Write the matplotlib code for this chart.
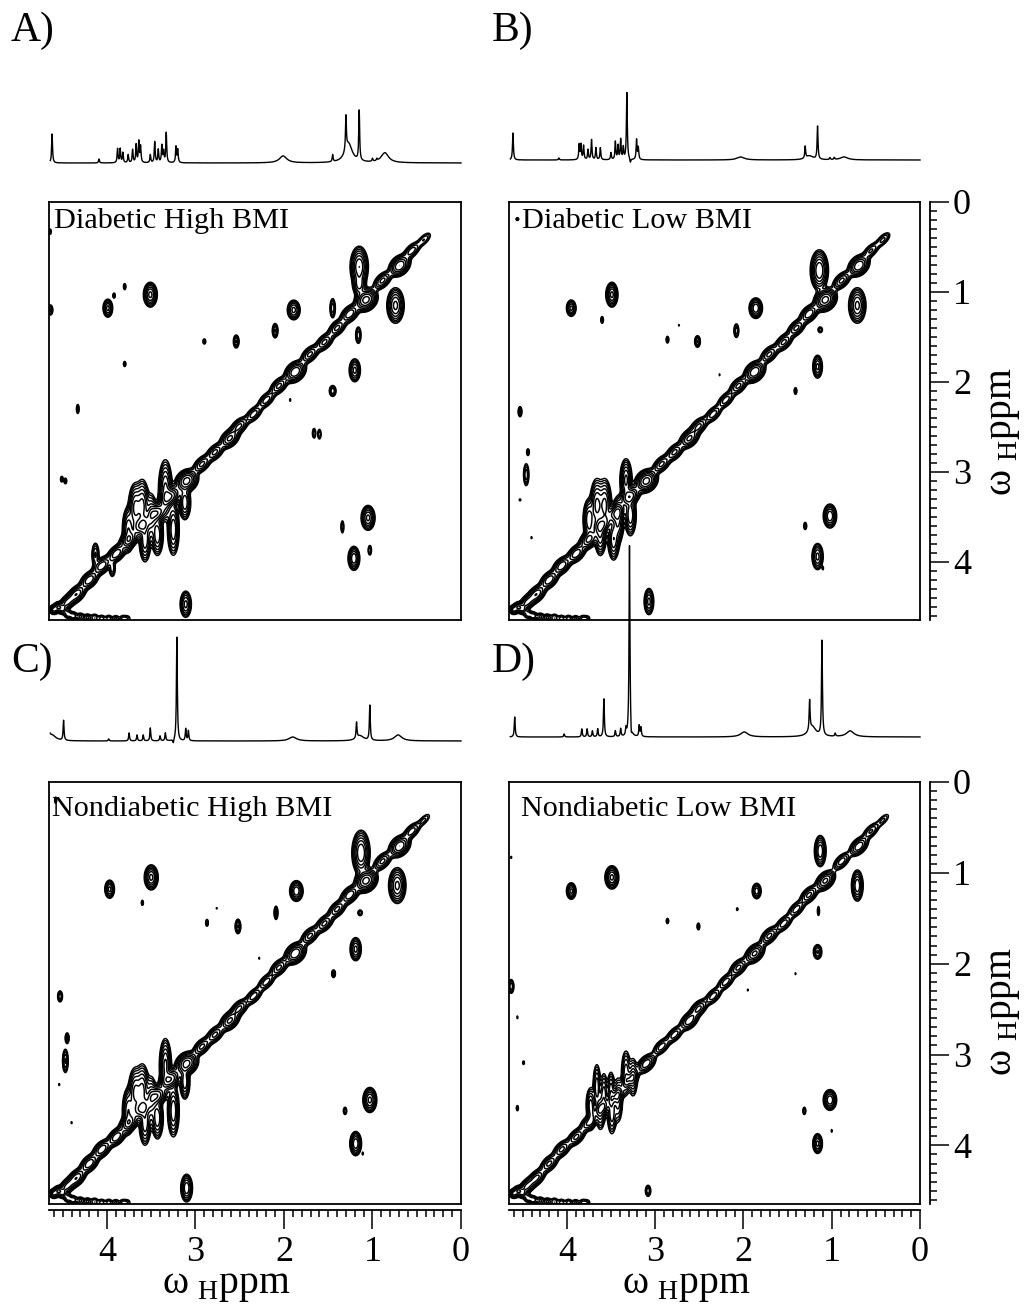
import numpy as np
import matplotlib
matplotlib.use('Agg')
import matplotlib.pyplot as plt
from matplotlib.ticker import MultipleLocator

plt.rcParams['font.family'] = ['Liberation Serif', 'DejaVu Serif']
plt.rcParams['mathtext.fontset'] = 'custom'
plt.rcParams['mathtext.rm'] = 'Liberation Serif'

W, H = 1026, 1308
LEVELS = [0.2, 0.3, 0.45, 0.7, 1.1, 1.7, 2.6, 4, 6]

# 1D traces: sharp lines (ppm, height in px above the baseline), broad humps
a_line_x = [4.62, 4.09, 3.88, 3.85, 3.82, 3.76, 3.71, 3.67, 3.64, 3.62, 3.51, 3.46, 3.42, 3.38, 3.36, 3.33, 3.22, 3.20, 1.45, 1.30, 1.15, 1.00, 0.95]
a_line_h = [29, 4, 14, 14, 10, 8, 13, 18, 21, 16, 8, 21, 13, 17, 11, 30, 16, 13, 7, 34, 50, 3, 2]
a_hump_x = [2.01, 1.27, 0.86]
a_hump_h = [7, 19, 10]

b_line_x = [4.61, 4.09, 3.86, 3.84, 3.81, 3.76, 3.72, 3.67, 3.62, 3.50, 3.45, 3.42, 3.39, 3.36, 3.32, 3.28, 3.21, 3.19, 1.30, 1.16, 1.02, 0.97]
b_line_h = [27, 2, 15, 15, 14, 10, 20, 12, 12, 7, 18, 14, 20, 12, 67, -4, 20, 12, 12, 33, 2, 2]
b_hump_x = [2.03, 1.25, 0.86]
b_hump_h = [3, 4, 3]

c_line_x = [4.65, 4.49, 3.98, 3.75, 3.66, 3.59, 3.51, 3.40, 3.34, 3.25, 3.21, 3.11, 3.08, 1.18, 1.03]
c_line_h = [10, 20, 2, 8, 6, 6, 13, 5, 8, -4, 104, 12, 10, 16, 35]
c_hump_x = [4.62, 1.90, 1.14, 0.71]
c_hump_h = [6, 4, 5, 6]

d_line_x = [4.59, 4.03, 3.83, 3.77, 3.71, 3.65, 3.58, 3.45, 3.39, 3.33, 3.29, 3.27, 3.18, 3.16, 1.25, 1.11, 0.96]
d_line_h = [20, 3, 8, 8, 6, 8, 38, 6, 8, 7, 192, -10, 11, 9, 30, 95, 3]
d_hump_x = [1.99, 1.22, 0.79]
d_hump_h = [5, 10, 6]

# 2D cross peaks: centre, half widths and height
a_x = [3.99, 3.92, 3.80, 3.51, 3.80, 2.90, 2.54, 2.10, 1.89, 1.45, 1.15, 1.15, 0.74, 1.20, 1.16, 1.45, 4.33, 1.66, 1.60, 4.51, 4.47, 1.93,
       3.68, 3.60, 3.34, 3.12, 3.25, 3.43, 3.57, 3.76, 3.50, 4.13, 3.94, 3.11, 1.05, 1.34, 1.21, 1.03, 4.64, 4.64]
a_y = [1.18, 1.04, 0.94, 1.03, 1.80, 1.55, 1.55, 1.43, 1.20, 1.18, 0.72, 0.92, 1.15, 1.87, 1.48, 2.10, 2.30, 2.57, 2.58, 3.08, 3.10, 2.20,
       3.40, 3.38, 3.20, 3.34, 3.64, 3.70, 3.75, 3.64, 3.50, 3.92, 4.07, 4.47, 3.51, 3.61, 3.96, 3.87, 1.20, 0.33]
a_w = [.03, .012, .012, .04, .012, .014, .02, .02, .04, .02, .05, .04, .05, .035, .02, .025, .012, .014, .014, .012, .012, .008,
       .04, .04, .04, .035, .035, .035, .035, .035, .035, .025, .022, .035, .04, .012, .035, .014, .02, .01]
a_h = [.055, .025, .03, .07, .025, .025, .045, .05, .06, .07, .11, .07, .10, .07, .06, .04, .04, .04, .04, .025, .025, .02,
       .14, .15, .17, .10, .15, .12, .13, .13, .14, .08, .06, .08, .07, .05, .07, .04, .04, .03]
a_amp = [2, 0.5, 0.5, 3, 0.5, 0.5, 1.2, 1.2, 2, 1, 4, 2, 3, 2, 1, 1, 0.6, 0.7, 0.7, 0.6, 0.6, 0.3,
         3, 3, 3, 2.5, 2.5, 2.5, 2.5, 2.5, 2, 1.2, 1, 2, 3, 0.7, 2.5, 0.7, 0.8, 0.4]

b_x = [3.95, 3.49, 3.60, 2.86, 2.73, 2.52, 2.08, 1.86, 1.14, 0.71, 1.13, 1.16, 2.27, 1.41, 4.53, 4.44, 4.46, 4.53, 4.40,
       3.66, 3.57, 3.33, 3.28, 3.42, 3.62, 3.47, 3.75, 3.07, 1.02, 1.30, 1.16, 1.10, 4.56]
b_y = [1.18, 1.03, 1.31, 1.53, 1.37, 1.55, 1.43, 1.18, 0.76, 1.15, 1.42, 1.83, 1.92, 2.10, 2.33, 2.78, 3.03, 3.31, 3.73,
       3.37, 3.37, 3.09, 3.48, 3.53, 3.70, 3.75, 3.53, 4.44, 3.49, 3.60, 3.94, 4.07, 0.19]
b_w = [.03, .035, .012, .012, .006, .02, .018, .04, .05, .05, .02, .03, .006, .012, .015, .012, .02, .012, .008,
       .04, .04, .035, .035, .035, .035, .035, .035, .03, .04, .012, .035, .008, .012]
b_h = [.05, .07, .03, .03, .012, .04, .05, .06, .11, .10, .025, .07, .015, .03, .04, .03, .08, .015, .015,
       .15, .15, .12, .12, .13, .12, .12, .12, .08, .07, .03, .08, .02, .012]
b_amp = [2, 3, 0.6, 0.6, 0.3, 1.2, 1, 2.5, 4, 3, 0.6, 2, 0.3, 0.6, 0.8, 0.6, 1, 0.3, 0.3,
         3, 3, 3, 2.5, 3, 2.5, 2.5, 2.5, 2, 2.5, 0.7, 2, 0.3, 0.6]

c_x = [3.97, 3.50, 3.60, 2.87, 2.76, 2.52, 2.09, 1.86, 1.13, 0.72, 1.14, 1.19, 2.28, 1.44, 4.53, 4.45, 4.47, 4.54, 4.40,
       3.68, 3.60, 3.34, 3.12, 3.25, 3.43, 3.57, 3.76, 3.50, 1.31, 1.03, 1.19, 1.11, 3.10, 4.58]
c_y = [1.18, 1.05, 1.33, 1.55, 1.39, 1.59, 1.44, 1.20, 0.78, 1.14, 1.44, 1.84, 1.94, 2.11, 2.36, 2.82, 3.07, 3.33, 3.75,
       3.42, 3.40, 3.12, 3.30, 3.62, 3.70, 3.75, 3.62, 3.50, 3.62, 3.50, 3.98, 4.09, 4.47, 0.20]
c_w = [.03, .04, .01, .012, .006, .02, .015, .04, .05, .05, .02, .035, .006, .015, .018, .015, .02, .008, .008,
       .04, .04, .035, .03, .035, .035, .035, .035, .035, .014, .04, .035, .008, .035, .01]
c_h = [.055, .07, .025, .03, .012, .05, .05, .06, .12, .10, .025, .07, .015, .03, .04, .04, .08, .015, .015,
       .14, .15, .15, .10, .15, .12, .13, .13, .14, .03, .07, .07, .02, .08, .03]
c_amp = [2, 3, 0.5, 0.6, 0.3, 1.2, 0.9, 2.5, 4, 3, 0.6, 2, 0.3, 0.8, 1, 0.9, 1.2, 0.3, 0.3,
         3, 3, 3, 2.5, 2.5, 2.5, 2.5, 2.5, 2, 0.7, 3, 2.5, 0.3, 2.5, 0.5]

d_x = [3.95, 3.49, 2.86, 2.51, 2.07, 1.85, 1.13, 0.71, 1.15, 1.16, 1.41, 1.95, 4.63, 4.56, 4.49, 4.56, 4.63,
       3.72, 3.66, 3.58, 3.50, 3.33, 3.25, 3.42, 3.62, 3.49, 3.74, 3.08, 1.31, 1.02, 1.00, 1.16]
d_y = [1.20, 1.05, 1.53, 1.59, 1.40, 1.20, 0.76, 1.14, 1.42, 1.87, 2.11, 2.29, 2.25, 2.59, 3.09, 3.59, 0.83,
       3.60, 3.35, 3.45, 3.40, 3.20, 3.25, 3.50, 3.62, 3.65, 3.55, 4.50, 3.62, 3.50, 3.84, 3.98]
d_w = [.03, .04, .012, .012, .008, .03, .035, .035, .012, .03, .006, .006, .02, .008, .01, .01, .008,
       .025, .025, .025, .025, .03, .03, .03, .03, .03, .025, .02, .012, .04, .008, .03]
d_h = [.05, .065, .025, .03, .015, .05, .09, .09, .05, .05, .015, .015, .05, .02, .02, .025, .015,
       .12, .14, .14, .12, .14, .12, .14, .12, .13, .10, .04, .03, .06, .02, .06]
d_amp = [2, 3, 0.5, 0.6, 0.4, 1.5, 2.5, 2.5, 0.4, 1.2, 0.3, 0.3, 1, 0.3, 0.4, 0.5, 0.3,
         1.5, 1.5, 1.5, 1.5, 1.5, 1.5, 1.5, 1.5, 1.5, 1.2, 1, 0.7, 2.5, 0.3, 2]

# ridge along the diagonal: centre, height, sideways offset
diag_d = [0.42, 0.55, 0.70, 0.88, 1.08, 1.25, 1.40, 1.55, 1.70, 1.88, 2.05, 2.20, 2.35, 2.50, 2.62, 2.78, 2.92, 3.10, 3.28, 3.45, 3.60, 3.75, 3.90, 4.05, 4.20, 4.35, 4.45]
diag_off = [0.00, 0.01, -0.01, 0.01, -0.01, 0.01, 0.00, -0.01, 0.01, -0.01, 0.01, 0.00, -0.01, 0.01, -0.01, 0.00, 0.01, 0.00, 0.01, -0.01, 0.01, 0.00, -0.01, 0.01, 0.00, -0.01, 0.00]
a_diag = [0.7, 1.5, 4, 2, 5, 2.5, 2, 2, 2, 4, 2, 1.5, 1.5, 2, 3, 2, 2, 5, 4, 4, 4, 3, 2.5, 2.5, 2.5, 2.5, 2]
b_diag = [0.8, 1.2, 4, 2, 5, 2.5, 2, 2, 2, 4, 2, 1.5, 1.5, 2, 3, 2, 2, 5, 3.5, 3.5, 3.5, 3, 2.5, 2.5, 2.5, 2.5, 2]
c_diag = [0.5, 1.5, 4, 2, 5, 2.5, 2, 2, 2, 4, 2, 1.5, 1.5, 2, 3, 2, 2, 5, 4, 4, 4, 3, 2.5, 2.5, 2.5, 2.5, 2]
d_diag = [0.5, 1.2, 2.5, 1.5, 3, 2, 1.5, 1.5, 2, 3, 2, 1.5, 1.5, 2, 2.5, 1.5, 1.5, 2.5, 2, 2, 2, 2, 2, 2, 2, 2, 2]

# water residue along the bottom edge
water_x = [4.60, 4.55, 4.50, 4.44, 4.38, 4.30, 4.22, 4.14, 4.06, 3.98, 3.90, 3.82, 3.77]
water_y = [4.53, 4.50, 4.53, 4.58, 4.60, 4.61, 4.62, 4.62, 4.63, 4.63, 4.63, 4.63, 4.63]
water_amp = [2, 2.5, 1.5, 1, 1, 0.8, 0.8, 0.7, 0.6, 0.6, 0.5, 0.5, 0.4]

panel_names = ['Diabetic High BMI', 'Diabetic Low BMI', 'Nondiabetic High BMI', 'Nondiabetic Low BMI']
panel_tags = ['A)', 'B)', 'C)', 'D)']
axis_label = 'ω$_{\\ \\mathrm{H}}$ppm'


def px_axes(fig, left, top, right, bottom, **kw):
    return fig.add_axes([left / W, 1 - bottom / H, (right - left) / W, (bottom - top) / H], **kw)


def field(px, py, pw, ph, pamp, diag):
    x = np.linspace(0, 4.66, 760)
    y = np.linspace(0, 4.66, 760)
    X, Y = np.meshgrid(x, y)
    Z = np.zeros_like(X)
    for a, b, w, h, amp in zip(px, py, pw, ph, pamp):
        Z += amp * np.exp(-0.5 * ((X - a) / (0.85 * w)) ** 2 - 0.5 * ((Y - b) / (0.85 * h)) ** 2)
    for d, off, amp in zip(diag_d, diag_off, diag):
        u = (X + Y - 2 * d) / np.sqrt(2)
        v = (X - Y) / np.sqrt(2) - off
        Z += amp * np.exp(-0.5 * (u / 0.06) ** 2 - 0.5 * (v / (0.023 + 0.005 * amp)) ** 2)
    for a, b, amp in zip(water_x, water_y, water_amp):
        Z += amp * np.exp(-0.5 * ((X - a) / 0.025) ** 2 - 0.5 * ((Y - b) / 0.025) ** 2)
    return X, Y, Z


def trace(line_x, line_h, hump_x, hump_h):
    x = np.linspace(0, 4.64, 9000)
    y = np.zeros_like(x)
    for a, h in zip(line_x, line_h):
        y += h / (1 + ((x - a) / 0.006) ** 2)
    for a, h in zip(hump_x, hump_h):
        y += h / (1 + ((x - a) / 0.05) ** 2)
    return x, y


fig = plt.figure(figsize=(W / 100, H / 100), dpi=100)

panels = [
    (49, 461, 202, 620, 163, a_x, a_y, a_w, a_h, a_amp, a_diag, a_line_x, a_line_h, a_hump_x, a_hump_h),
    (509, 920, 202, 620, 160, b_x, b_y, b_w, b_h, b_amp, b_diag, b_line_x, b_line_h, b_hump_x, b_hump_h),
    (49, 461, 782, 1204, 741, c_x, c_y, c_w, c_h, c_amp, c_diag, c_line_x, c_line_h, c_hump_x, c_hump_h),
    (509, 920, 782, 1204, 737, d_x, d_y, d_w, d_h, d_amp, d_diag, d_line_x, d_line_h, d_hump_x, d_hump_h),
]
name_x = [54, 522, 52, 521]
name_y = [208, 208, 796, 796]
tag_x = [11, 492, 11, 492]
tag_y = [31, 31, 662, 662]

for i, p in enumerate(panels):
    left, right, top, bottom, base, px, py, pw, ph, pamp, diag, lx, lh, hx, hh = p

    ax = px_axes(fig, left, top, right, bottom)
    X, Y, Z = field(px, py, pw, ph, pamp, diag)
    ax.contour(X, Y, Z, levels=LEVELS, colors='black', linewidths=1.05)
    ax.set_xlim(4.655, 0)
    ax.set_ylim(4.645, 0)
    ax.set_xticks([])
    ax.set_yticks([])
    for s in ax.spines.values():
        s.set_linewidth(1.3)
    fig.text(name_x[i] / W, 1 - name_y[i] / H, panel_names[i], fontsize=21.8, va='top', ha='left')

    # 1D spectrum above the panel, the big lines run out of its box
    sp = px_axes(fig, left, base - 60, right, base)
    sx, sy = trace(lx, lh, hx, hh)
    sp.plot(sx, sy, color='black', lw=1.0, clip_on=False)
    sp.set_xlim(4.655, 0)
    sp.set_ylim(0, 60)
    sp.axis('off')
    sp.patch.set_alpha(0)

    fig.text(tag_x[i] / W, 1 - tag_y[i] / H, panel_tags[i], fontsize=30, va='center', ha='left')

    if i in (2, 3):
        bx = px_axes(fig, left, 1209, right, 1209.5)
        bx.set_xlim(4.655, 0)
        bx.set_yticks([])
        for s in ['top', 'left', 'right']:
            bx.spines[s].set_visible(False)
        bx.spines['bottom'].set_linewidth(1.3)
        bx.xaxis.set_major_locator(MultipleLocator(1))
        bx.xaxis.set_minor_locator(MultipleLocator(0.1))
        bx.tick_params(axis='x', which='major', length=14, width=1.1, labelsize=26, pad=5)
        bx.tick_params(axis='x', which='minor', length=5, width=1.1)
        fig.text((left + 177) / W, 1 - 1285 / H, axis_label, fontsize=28.5, ha='center', va='center')

    if i in (1, 3):
        ry = px_axes(fig, 929, top, 929.5, bottom)
        ry.set_ylim(4.645, 0)
        ry.set_xticks([])
        for s in ['top', 'left', 'bottom']:
            ry.spines[s].set_visible(False)
        ry.spines['right'].set_linewidth(1.3)
        ry.yaxis.tick_right()
        ry.yaxis.set_major_locator(MultipleLocator(1))
        ry.yaxis.set_minor_locator(MultipleLocator(0.1))
        ry.tick_params(axis='y', which='major', length=14, width=1.1, labelsize=26, pad=3)
        ry.tick_params(axis='y', which='minor', length=5, width=1.1)
        fig.text(1003 / W, 1 - (top + 230) / H, axis_label, fontsize=28.5, rotation=90, ha='center', va='center')

fig.savefig('out.png', dpi=100)
